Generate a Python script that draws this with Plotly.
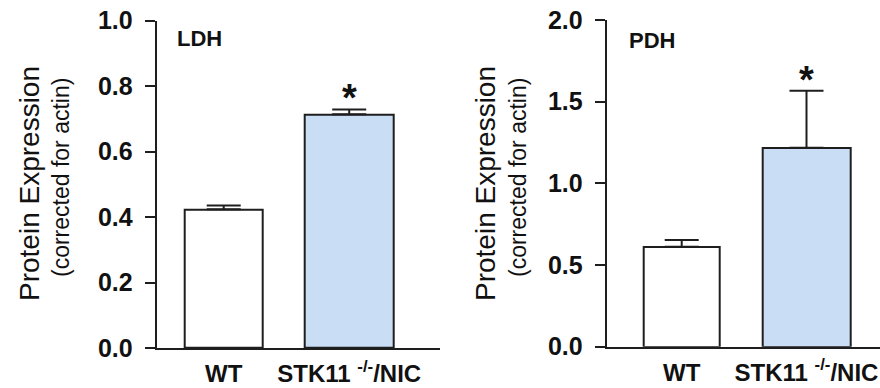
import plotly.graph_objects as go

# ---- data ----
categories = ["WT", "STK11 <sup>-/-</sup>/NIC"]
ldh_values = [0.424, 0.714]
ldh_errors = [0.011, 0.015]
pdh_values = [0.612, 1.218]
pdh_errors = [0.041, 0.349]
ldh_ticks = [0.0, 0.2, 0.4, 0.6, 0.8, 1.0]
pdh_ticks = [0.0, 0.5, 1.0, 1.5, 2.0]
panel_labels = ["LDH", "PDH"]
significance = ["", "*"]

W, H = 880, 388
FONT = "Liberation Sans, Arial, sans-serif"
DARK = "#1e1e1e"
BAR_COLORS = ["#ffffff", "#c9ddf5"]


def px_x(p):
    return p / W


def px_y(p):
    return 1 - p / H


fig = go.Figure()

panels = [
    dict(vals=ldh_values, errs=ldh_errors, ticks=ldh_ticks, yr=[0, 1.0],
         xa="x", ya="y", widths=[0.616, 0.704]),
    dict(vals=pdh_values, errs=pdh_errors, ticks=pdh_ticks, yr=[0, 2.0],
         xa="x2", ya="y2", widths=[0.615, 0.708]),
]

for p in panels:
    fig.add_trace(go.Bar(
        x=categories, y=p["vals"], width=p["widths"],
        marker=dict(color=BAR_COLORS, line=dict(color=DARK, width=2)),
        error_y=dict(type="data", array=p["errs"], arrayminus=[0, 0],
                     symmetric=False, color=DARK, thickness=2, width=17),
        xaxis=p["xa"], yaxis=p["ya"], showlegend=False, hoverinfo="skip",
    ))

axis_common = dict(showline=True, linecolor=DARK, linewidth=2,
                   showgrid=False, zeroline=False, automargin=False)
yaxis_common = dict(axis_common, ticks="outside", ticklen=10, tickwidth=2,
                    tickcolor=DARK, tickformat=".1f",
                    tickfont=dict(family=FONT, size=25, color="#111111",
                                  weight="bold"),
                    ticklabelstandoff=7)
xaxis_common = dict(axis_common, type="category", ticks="",
                    tickfont=dict(family=FONT, size=24, color="#111111",
                                  weight="bold"),
                    ticklabelstandoff=3)

fig.update_layout(
    width=W, height=H,
    margin=dict(l=0, r=0, t=0, b=0, autoexpand=False),
    paper_bgcolor="white", plot_bgcolor="white",
    bargap=0,
    xaxis=dict(xaxis_common, domain=[px_x(156.7), px_x(440)],
               range=[-0.534, 1.7235], anchor="y"),
    yaxis=dict(yaxis_common, domain=[px_y(348), px_y(20.7)],
               range=[0, 1.0], tickvals=ldh_ticks, anchor="x"),
    xaxis2=dict(xaxis_common, domain=[px_x(606.7), 1.0],
                range=[-0.601, 1.589], anchor="y2"),
    yaxis2=dict(yaxis_common, domain=[px_y(346.7), px_y(20)],
                range=[0, 2.0], tickvals=pdh_ticks, anchor="x2"),
)

# y titles
for cx1, cx2, cy in [(29, 61, 184), (485, 518, 184)]:
    fig.add_annotation(xref="paper", yref="paper", x=px_x(cx1), y=px_y(cy),
                       text="Protein Expression", textangle=-90,
                       showarrow=False, xanchor="center", yanchor="middle",
                       font=dict(family=FONT, size=28, color="#111111"))
    fig.add_annotation(xref="paper", yref="paper", x=px_x(cx2), y=px_y(cy - 6),
                       text="(corrected for actin)", textangle=-90,
                       showarrow=False, xanchor="center", yanchor="middle",
                       font=dict(family=FONT, size=23, color="#111111"))

# panel labels
for label, (cx, cy) in zip(panel_labels, [(199, 39), (652, 41)]):
    fig.add_annotation(xref="paper", yref="paper", x=px_x(cx), y=px_y(cy),
                       text=f"<b>{label}</b>", showarrow=False,
                       xanchor="center", yanchor="middle",
                       font=dict(family=FONT, size=22, color="#111111"))

# significance stars
for p in panels:
    for i, s in enumerate(significance):
        if s:
            fig.add_annotation(xref=p["xa"], yref=p["ya"], x=i,
                               y=p["vals"][i] + p["errs"][i],
                               text=f"<b>{s}</b>", showarrow=False,
                               xanchor="center", yanchor="bottom", yshift=-12,
                               font=dict(family=FONT, size=38, color="#111111"))

fig.write_html(
    "out.html",
    config={"displayModeBar": False},
    post_script="document.body.style.margin='0';"
                "document.body.style.overflow='hidden';",
)
